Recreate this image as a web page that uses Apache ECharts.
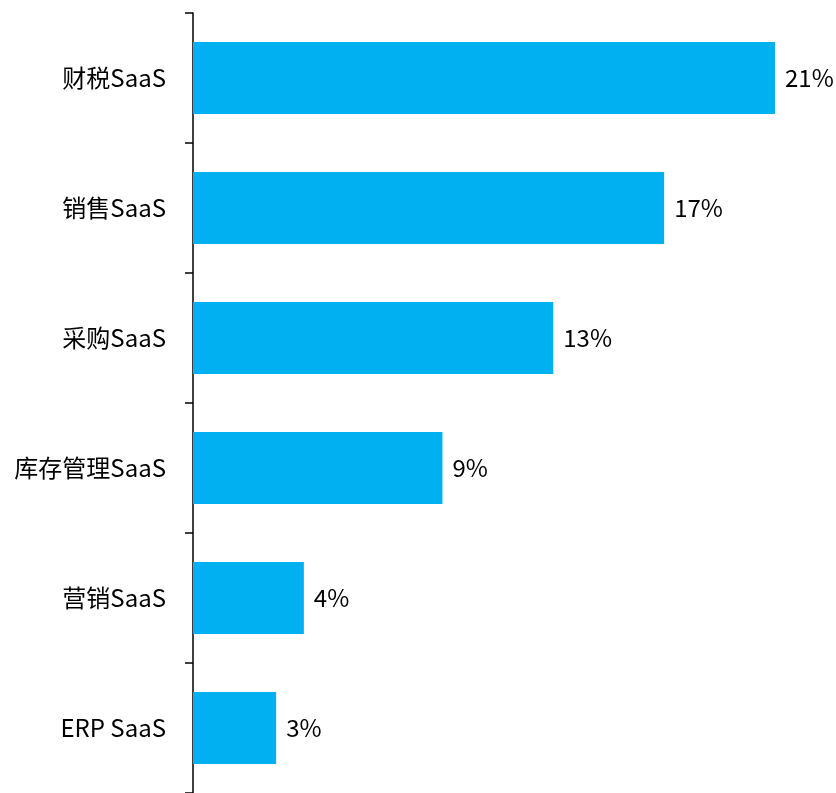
<!DOCTYPE html>
<html>
<head>
<meta charset="utf-8">
<style>
  html, body { margin: 0; padding: 0; background: #ffffff; }
  #chart { width: 836px; height: 793px; }
</style>
<script src="https://cdn.jsdelivr.net/npm/echarts@6/dist/echarts.min.js"></script>
</head>
<body>
<div id="chart"></div>
<script>
// SaaS categories, top to bottom
const categories = ['财税SaaS', '销售SaaS', '采购SaaS', '库存管理SaaS', '营销SaaS', 'ERP SaaS'];
// share of each category, in percent
const shares = [21, 17, 13, 9, 4, 3];

const FONT = '"Noto Sans CJK SC", "Noto Sans", sans-serif';

const chart = echarts.init(document.getElementById('chart'), null, { renderer: 'canvas' });

chart.setOption({
  backgroundColor: '#ffffff',
  animation: false,
  grid: { left: 193, right: 61, top: 13, bottom: 0, containLabel: false },
  xAxis: {
    type: 'value',
    min: 0,
    max: 21,
    show: false
  },
  yAxis: {
    type: 'category',
    data: categories,
    inverse: true,
    axisLine: { show: true, lineStyle: { color: '#000000', width: 1.5 } },
    axisTick: { show: true, length: 8, inside: false, lineStyle: { color: '#000000', width: 1.5 } },
    axisLabel: { color: '#000000', fontSize: 24, fontFamily: FONT, margin: 27 },
    splitLine: { show: false }
  },
  series: [{
    type: 'bar',
    data: shares,
    barCategoryGap: '44.6%',
    itemStyle: { color: '#00B0F0' },
    label: {
      show: true,
      position: 'right',
      distance: 10,
      color: '#000000',
      fontSize: 24,
      fontFamily: FONT,
      formatter: p => p.value + '%'
    }
  }]
});
</script>
</body>
</html>
